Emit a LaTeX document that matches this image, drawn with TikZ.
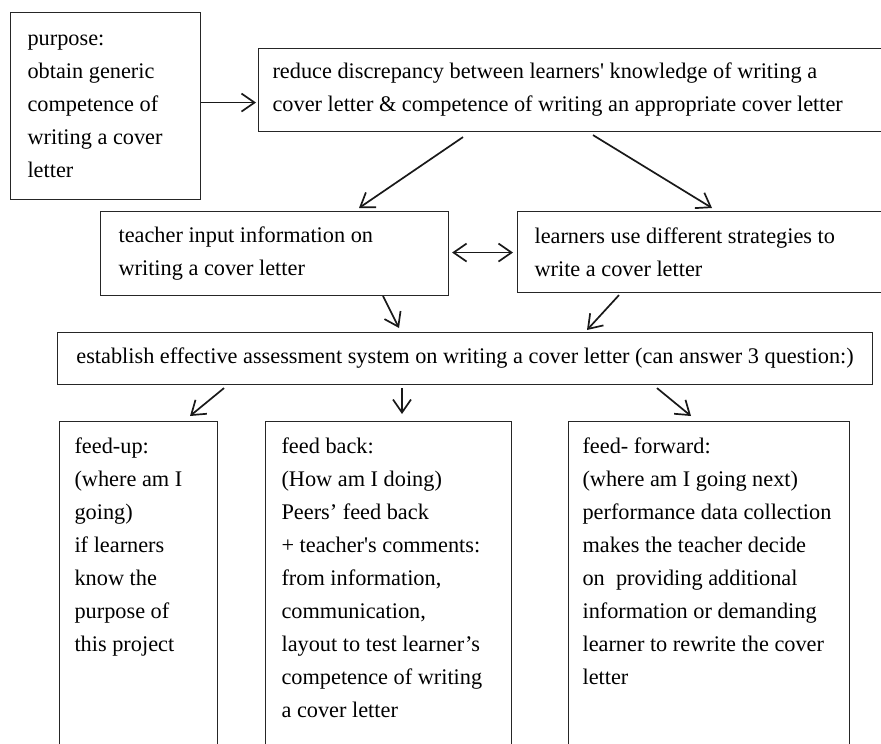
\documentclass[tikz,border=0pt]{standalone}
\usepackage{fontspec}
\setmainfont{Liberation Serif}
\usetikzlibrary{arrows.meta}

\tikzset{
  box/.style={draw=black!85, line width=1.1pt, anchor=north west, align=flush left,
    inner xsep=16pt, inner ysep=6pt, font=\fontsize{22.3}{33}\selectfont},
  openbox/.style={box, inner ysep=16pt, text depth=420pt},
  arr/.style={-{Straight Barb[length=13pt,width=18pt]}, line width=1.7pt, black!90},
  dblarr/.style={{Straight Barb[length=13pt,width=18pt]}-{Straight Barb[length=13pt,width=18pt]},
    line width=1.7pt, black!90}
}

\begin{document}
\begin{tikzpicture}[x=1pt,y=1pt]
  \useasboundingbox (0,0) rectangle (881,-744);
  \clip (0,0) rectangle (881,-744);

  % top row
  \node[box, inner xsep=17pt, text width=156pt, minimum height=187pt] (purpose) at (10,-12)
    {purpose:\\obtain generic\\competence of\\writing a cover\\letter};
  \node[box, inner xsep=14pt, text width=640pt, minimum height=83pt] (reduce) at (258,-48)
    {reduce discrepancy between learners\textquotesingle{} knowledge of writing a\\
     cover letter \& competence of writing an appropriate cover letter};

  % middle row
  \node[box, inner xsep=18pt, text width=312pt, minimum height=84pt] (teacher) at (100,-211)
    {teacher input information on\\writing a cover letter};
  \node[box, inner xsep=17pt, text width=400pt, minimum height=81pt] (learners) at (517,-211)
    {learners use different strategies to\\write a cover letter};
  \node[box, minimum width=815pt, minimum height=52pt] (establish) at (57,-332)
    {establish effective assessment system on writing a cover letter (can answer 3 question:)};

  % bottom row
  \node[openbox, inner xsep=15pt, text width=128pt] (feedup) at (59,-421)
    {feed-up:\\(where am I\\going)\\if learners\\know the\\purpose of\\this project};
  \node[openbox, inner xsep=16pt, text width=214pt] (feedback) at (265,-421)
    {feed back:\\(How am I doing)\\Peers' feed back\\+ teacher\textquotesingle s comments:\\
     from information,\\communication,\\layout to test learner's\\competence of writing\\a cover letter};
  \node[openbox, inner xsep=14pt, text width=253pt] (feedfwd) at (568,-421)
    {feed- forward:\\(where am I going next)\\performance data collection\\makes the teacher decide\\
     on \ providing additional\\information or demanding\\learner to rewrite the cover\\letter};

  % connectors
  \draw[arr, shorten >=2pt] ([yshift=3.5pt]purpose.east) -- ([yshift=3.5pt]purpose.east -| reduce.west);
  \draw[arr] ([xshift=205pt,yshift=-5pt]reduce.south west) -- ([xshift=259pt,yshift=3pt]teacher.north west);
  \draw[arr] ([xshift=335pt,yshift=-3pt]reduce.south west) -- ([xshift=195pt,yshift=3pt]learners.north west);
  \draw[dblarr, shorten <=3pt, shorten >=4pt] ([yshift=1pt]teacher.east) -- ([yshift=1pt]teacher.east -| learners.west);
  \draw[arr] ([xshift=283pt]teacher.south west) -- ([xshift=342pt,yshift=4pt]establish.north west);
  \draw[arr] ([xshift=102pt,yshift=-2pt]learners.south west) -- ([xshift=530pt,yshift=2pt]establish.north west);
  \draw[arr] ([xshift=167pt,yshift=-3pt]establish.south west) -- ([xshift=131pt,yshift=5pt]feedup.north west);
  \draw[arr] ([xshift=345pt,yshift=-3pt]establish.south west) -- ([xshift=137pt,yshift=7pt]feedback.north west);
  \draw[arr] ([xshift=600pt,yshift=-3pt]establish.south west) -- ([xshift=123pt,yshift=5pt]feedfwd.north west);
\end{tikzpicture}
\end{document}
